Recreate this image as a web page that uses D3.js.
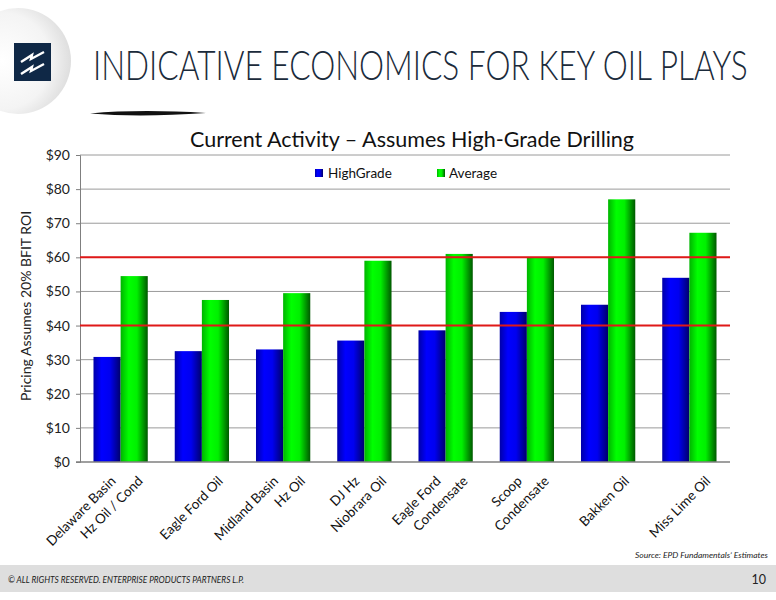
<!DOCTYPE html>
<html>
<head>
  <meta charset="utf-8">
  <script src="https://cdn.jsdelivr.net/npm/d3@7"></script>
  <style>
    body { margin: 0; background: #fff; }
    svg text { font-family: Lato, "Open Sans", sans-serif; }
  </style>
</head>
<body>
<script>
// values
var categories = [
  "Delaware Basin\nHz Oil / Cond",
  "Eagle Ford Oil",
  "Midland Basin\nHz Oil",
  "DJ Hz\nNiobrara Oil",
  "Eagle Ford\nCondensate",
  "Scoop\nCondensate",
  "Bakken Oil",
  "Miss Lime Oil"
];
var highGrade = [30.8, 32.5, 33.0, 35.6, 38.6, 44.0, 46.1, 54.0];
var average   = [54.5, 47.5, 49.5, 59.0, 61.0, 59.9, 77.0, 67.2];
var seriesNames = ["HighGrade", "Average"];
var refLines = [40, 60];
var yTicks = [0, 10, 20, 30, 40, 50, 60, 70, 80, 90];

var W = 776, H = 600;
var svg = d3.select("body").append("svg").attr("width", W).attr("height", H);
var defs = svg.append("defs");

// bar gradients, lit from the left
function barGradient(id, stops) {
  var g = defs.append("linearGradient").attr("id", id)
    .attr("x1", "0%").attr("x2", "100%").attr("y1", "0%").attr("y2", "0%");
  stops.forEach(function(s) {
    g.append("stop").attr("offset", s[0]).attr("stop-color", s[1]);
  });
}
barGradient("gBlue", [["0%", "#0000a8"], ["30%", "#0000ff"], ["60%", "#0000f0"], ["100%", "#00006a"]]);
barGradient("gGreen", [["0%", "#00b400"], ["30%", "#00ff00"], ["60%", "#00f000"], ["100%", "#005800"]]);

var rg = defs.append("radialGradient").attr("id", "gCircle")
  .attr("cx", "35%").attr("cy", "50%").attr("r", "65%");
rg.append("stop").attr("offset", "0%").attr("stop-color", "#ffffff");
rg.append("stop").attr("offset", "70%").attr("stop-color", "#f4f4f4");
rg.append("stop").attr("offset", "100%").attr("stop-color", "#dedede");

// header decoration
svg.append("circle").attr("cx", 18).attr("cy", 61).attr("r", 53).attr("fill", "url(#gCircle)");
svg.append("rect").attr("x", 14).attr("y", 43).attr("width", 37).attr("height", 38).attr("fill", "#0f2846");
[0, 12].forEach(function(dy) {
  svg.append("path")
    .attr("d", "M21," + (62 + dy) + " L32," + (55 + dy) + " L31," + (59 + dy) + " L44," + (52 + dy))
    .attr("fill", "none").attr("stroke", "#fff").attr("stroke-width", 2.4)
    .attr("stroke-linejoin", "miter");
});
// slide title, squeezed horizontally to the width of the narrow original face
var title = svg.append("text")
  .attr("font-size", 42).attr("font-weight", 300).attr("fill", "#1b2b3b")
  .text("INDICATIVE ECONOMICS FOR KEY OIL PLAYS");
var tw = title.node().getComputedTextLength();
title.attr("transform", "translate(93,80) scale(" + (655 / tw) + ",1)");
svg.append("path")
  .attr("d", "M90,113.5 Q140,109 206,113 Q140,117.5 90,113.5 Z")
  .attr("fill", "#111");

// chart
var m = {left: 80, right: 730, top: 155, bottom: 462};
var x = d3.scaleBand().domain(categories).range([m.left, m.right])
  .paddingInner(0.332).paddingOuter(0.166);
var x1 = d3.scaleBand().domain(seriesNames).range([0, x.bandwidth()]);
var y = d3.scaleLinear().domain([0, 90]).range([m.bottom, m.top]);

svg.append("text").attr("x", 412).attr("y", 147).attr("text-anchor", "middle")
  .attr("font-size", 21.5).attr("fill", "#111")
  .text("Current Activity \u2013 Assumes High-Grade Drilling");

// gridlines
svg.append("g").selectAll("line").data(yTicks.slice(1)).join("line")
  .attr("x1", m.left).attr("x2", m.right)
  .attr("y1", function(d) { return y(d); }).attr("y2", function(d) { return y(d); })
  .attr("stroke", "#9a9a9a").attr("stroke-width", 1);

var yAxis = svg.append("g").attr("transform", "translate(" + m.left + ",0)")
  .call(d3.axisLeft(y).tickValues(yTicks).tickSize(4).tickPadding(6)
    .tickFormat(function(d) { return "$" + d; }));
yAxis.select(".domain").attr("stroke", "#7f7f7f");
yAxis.selectAll(".tick line").attr("stroke", "#7f7f7f");
yAxis.selectAll(".tick text").attr("font-size", 14).attr("fill", "#222")
  .style("font-family", "Lato, sans-serif");

svg.append("text")
  .attr("transform", "translate(31,306) rotate(-90)")
  .attr("text-anchor", "middle").attr("font-size", 14).attr("fill", "#222")
  .text("Pricing Assumes 20% BFIT ROI");

// bars
var rows = categories.map(function(c, i) {
  return {cat: c, vals: [highGrade[i], average[i]]};
});
var grads = ["url(#gBlue)", "url(#gGreen)"];
var groups = svg.append("g").selectAll("g").data(rows).join("g")
  .attr("transform", function(d) { return "translate(" + x(d.cat) + ",0)"; });
groups.selectAll("rect").data(function(d) {
    return d.vals.map(function(v, j) { return {s: seriesNames[j], v: v, j: j}; });
  }).join("rect")
  .attr("x", function(d) { return x1(d.s); })
  .attr("width", x1.bandwidth())
  .attr("y", function(d) { return y(d.v); })
  .attr("height", function(d) { return y(0) - y(d.v); })
  .attr("fill", function(d) { return grads[d.j]; });

// reference lines
svg.append("g").selectAll("line").data(refLines).join("line")
  .attr("x1", m.left).attr("x2", m.right)
  .attr("y1", function(d) { return y(d); }).attr("y2", function(d) { return y(d); })
  .attr("stroke", "#e01818").attr("stroke-width", 2);

// x axis line
svg.append("line").attr("x1", m.left - 4).attr("x2", m.right)
  .attr("y1", y(0)).attr("y2", y(0)).attr("stroke", "#7f7f7f").attr("stroke-width", 1.3);

// category labels, -45deg, each line ends on the same screen row
var labels = svg.append("g");
categories.forEach(function(c) {
  var lines = c.split("\n");
  var cx = x(c) + x.bandwidth() / 2;
  var base = lines.length === 1 ? 22 : -4;
  lines.forEach(function(t, i) {
    labels.append("text")
      .attr("transform", "translate(" + (cx + base + i * 27) + ",482) rotate(-45)")
      .attr("text-anchor", "end").attr("font-size", 13.5).attr("fill", "#111")
      .text(t);
  });
});

// legend
var leg = svg.append("g");
[[315, 328], [437, 449]].forEach(function(p, i) {
  leg.append("rect").attr("x", p[0]).attr("y", 169).attr("width", 8).attr("height", 8)
    .attr("fill", grads[i]);
  leg.append("text").attr("x", p[1]).attr("y", 178).attr("font-size", 13.5).attr("fill", "#111")
    .text(seriesNames[i]);
});

// source + footer
svg.append("text").attr("x", 768).attr("y", 558).attr("text-anchor", "end")
  .attr("font-size", 8.5).attr("font-style", "italic").attr("fill", "#222")
  .attr("textLength", 133).attr("lengthAdjust", "spacingAndGlyphs")
  .text("Source:  EPD Fundamentals\u2019 Estimates");
svg.append("rect").attr("x", 0).attr("y", 565).attr("width", W).attr("height", 27).attr("fill", "#dedede");
svg.append("text").attr("x", 8).attr("y", 583)
  .attr("font-size", 9).attr("font-style", "italic").attr("fill", "#222")
  .attr("textLength", 236).attr("lengthAdjust", "spacingAndGlyphs")
  .text("\u00a9 ALL RIGHTS RESERVED. ENTERPRISE PRODUCTS PARTNERS L.P.");
svg.append("text").attr("x", 766).attr("y", 584).attr("text-anchor", "end")
  .attr("font-size", 12.5).attr("fill", "#222").text("10");
</script>
</body>
</html>
